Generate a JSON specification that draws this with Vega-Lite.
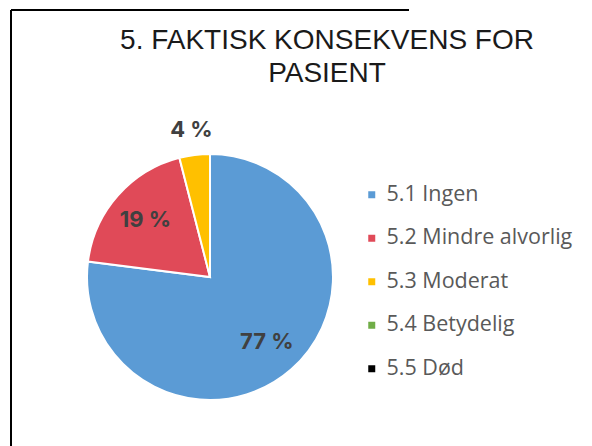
{
  "$schema": "https://vega.github.io/schema/vega-lite/v6.json",
  "width": 398,
  "height": 534,
  "autosize": "none",
  "padding": {"left": 11, "top": 10, "right": 183, "bottom": 0},
  "background": "white",
  "view": {"stroke": "#000000", "strokeWidth": 2, "strokeDash": [398, 932, 534, 0]},
  "title": {
    "text": ["5. FAKTISK KONSEKVENS FOR", "PASIENT"],
    "font": "Liberation Sans",
    "fontSize": 28,
    "fontWeight": "normal",
    "color": "#1a1a1a",
    "anchor": "middle",
    "frame": "group",
    "dx": 117,
    "dy": 82,
    "lineHeight": 33
  },
  "data": {
    "values": [
      {"category": "5.1 Ingen", "value": 77, "label": "77 %"},
      {"category": "5.2 Mindre alvorlig", "value": 19, "label": "19 %"},
      {"category": "5.3 Moderat", "value": 4, "label": "4 %"},
      {"category": "5.4 Betydelig", "value": 0, "label": "0 %"},
      {"category": "5.5 Død", "value": 0, "label": "0 %"}
    ]
  },
  "layer": [
    {
      "mark": {"type": "arc", "outerRadius": 123, "stroke": "white", "strokeWidth": 2},
      "encoding": {
        "theta": {"field": "value", "type": "quantitative", "stack": true},
        "order": {"field": "category", "type": "ordinal", "sort": "ascending"},
        "color": {
          "field": "category",
          "type": "nominal",
          "scale": {
            "domain": ["5.1 Ingen", "5.2 Mindre alvorlig", "5.3 Moderat", "5.4 Betydelig", "5.5 Død"],
            "range": ["#5B9BD5", "#E04A58", "#FFC000", "#70AD47", "#000000"]
          },
          "legend": {
            "title": null,
            "orient": "none",
            "legendX": 350,
            "legendY": 174,
            "padding": 0,
            "symbolType": "square",
            "symbolSize": 49,
            "symbolStrokeWidth": 0,
            "labelFont": "Open Sans",
            "labelFontSize": 21.5,
            "labelColor": "#595959",
            "labelOffset": 4,
            "rowPadding": 20.5,
            "labelLimit": 300
          }
        }
      }
    },
    {
      "mark": {"type": "text", "font": "Inter", "fontSize": 22, "fontWeight": "bold", "color": "#404040", "radius": 86},
      "encoding": {
        "theta": {"field": "value", "type": "quantitative", "stack": true},
        "order": {"field": "category", "type": "ordinal", "sort": "ascending"},
        "text": {"condition": {"test": "datum.value >= 10", "field": "label", "type": "nominal"}, "value": ""}
      }
    },
    {
      "mark": {"type": "text", "font": "Inter", "fontSize": 22, "fontWeight": "bold", "color": "#404040", "radius": 148},
      "encoding": {
        "theta": {"field": "value", "type": "quantitative", "stack": true},
        "order": {"field": "category", "type": "ordinal", "sort": "ascending"},
        "text": {"condition": {"test": "datum.value > 0 && datum.value < 10", "field": "label", "type": "nominal"}, "value": ""}
      }
    }
  ]
}
